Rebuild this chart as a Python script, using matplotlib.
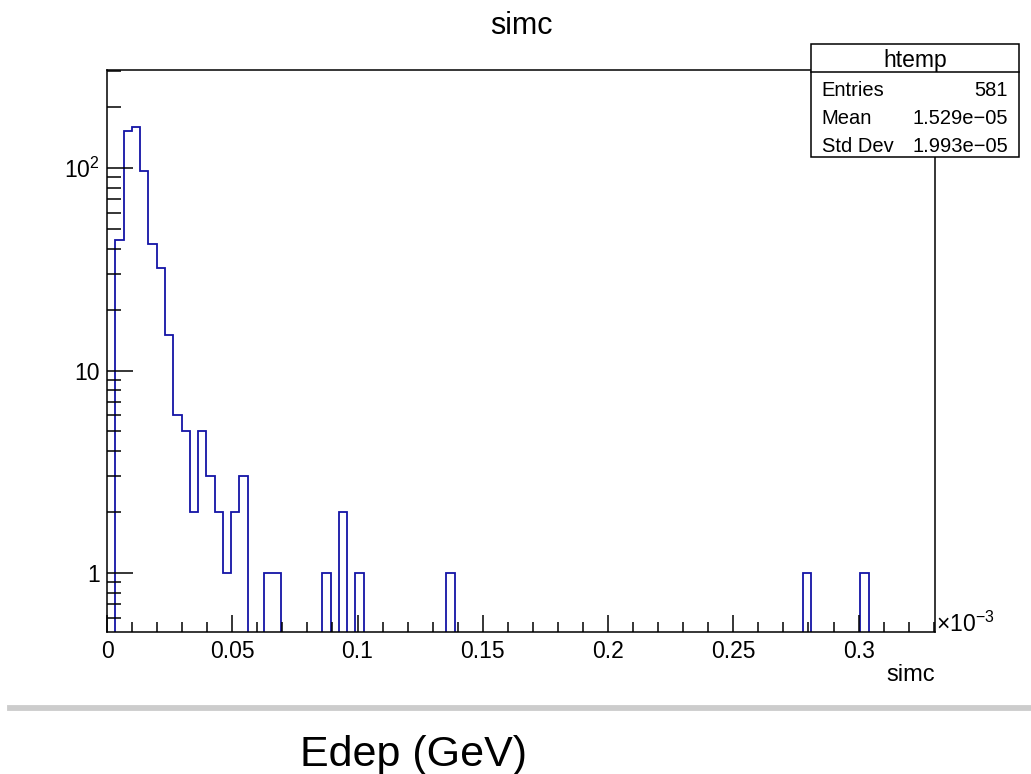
import numpy as np
import matplotlib as mpl

mpl.use('Agg')

import matplotlib.pyplot as plt
from matplotlib.patches import Rectangle
from matplotlib.lines import Line2D
from matplotlib.ticker import FixedLocator, FixedFormatter, MultipleLocator, LogLocator, NullFormatter

plt.rcParams['font.family'] = ['Liberation Sans', 'DejaVu Sans']
plt.rcParams['mathtext.fontset'] = 'custom'
plt.rcParams['mathtext.rm'] = 'Liberation Sans'
plt.rcParams['mathtext.it'] = 'Liberation Sans:italic'
plt.rcParams['mathtext.bf'] = 'Liberation Sans:bold'

# histogram data (x in units of 1e-3 GeV)
n_bins = 100
x_max = 0.3305
filled_bins = [1, 2, 3, 4, 5, 6, 7, 8, 9, 10, 11, 12, 13, 14, 15, 16,
               19, 20, 26, 28, 30, 41, 84, 91]
filled_counts = [44, 153, 160, 97, 42, 32, 15, 6, 5, 2, 5, 3, 2, 1, 2, 3,
                 1, 1, 1, 2, 1, 1, 1, 1]

x_ticks = [0, 0.05, 0.1, 0.15, 0.2, 0.25, 0.3]
x_tick_labels = ['0', '0.05', '0.1', '0.15', '0.2', '0.25', '0.3']
y_ticks = [1, 10, 100]
y_tick_labels = ['1', '10', r'$10^{2}$']

stats_title = 'htemp'
stats_names = ['Entries', 'Mean', 'Std Dev']
stats_values = ['581', '1.529e\u221205', '1.993e\u221205']

W, H = 1031, 774


def fx(x):
    return x / W


def fy(y):
    return 1 - y / H


counts = np.zeros(n_bins)
counts[filled_bins] = filled_counts
edges = np.linspace(0, x_max, n_bins + 1)
# empty bins drawn below the log axis floor, like ROOT does
plot_vals = np.where(counts > 0, counts, 1e-3)

fig = plt.figure(figsize=(W / 100, H / 100), dpi=100)
ax = fig.add_axes([fx(107), fy(632), fx(935) - fx(107), fy(70) - fy(632)])

ax.stairs(plot_vals, edges, baseline=None, color='#1414a6', lw=1.3)

ax.set_yscale('log')
ax.set_xlim(0, x_max)
ax.set_ylim(0.511, 305)

ax.xaxis.set_major_locator(FixedLocator(x_ticks))
ax.xaxis.set_major_formatter(FixedFormatter(x_tick_labels))
ax.xaxis.set_minor_locator(MultipleLocator(0.01))
ax.yaxis.set_major_locator(FixedLocator(y_ticks))
ax.yaxis.set_major_formatter(FixedFormatter(y_tick_labels))
ax.yaxis.set_minor_locator(LogLocator(base=10, subs=np.arange(2, 10), numticks=20))
ax.yaxis.set_minor_formatter(NullFormatter())

ax.tick_params(axis='x', which='major', direction='in', length=12, width=1.1,
               labelsize=16.5, pad=6, top=False)
ax.tick_params(axis='x', which='minor', direction='in', length=7, width=1.1, top=False)
ax.tick_params(axis='y', which='major', direction='in', length=18.5, width=1.1,
               labelsize=16.5, pad=5, right=False)
ax.tick_params(axis='y', which='minor', direction='in', length=10, width=1.1, right=False)
for s in ax.spines.values():
    s.set_linewidth(1.1)

# title and axis texts
fig.text(fx(521), fy(34), 'simc', ha='center', va='baseline', fontsize=22)
fig.text(fx(935), fy(681), 'simc', ha='right', va='baseline', fontsize=17)
fig.text(fx(936), fy(632), r'$\times10^{-3}$', ha='left', va='baseline', fontsize=16.5)

# stats box
box_l, box_r, box_t, box_b, box_sep = 810.7, 1019, 44, 157.3, 72.3
fig.add_artist(Rectangle((fx(box_l), fy(box_b)), fx(box_r) - fx(box_l), fy(box_t) - fy(box_b),
                         transform=fig.transFigure, facecolor='white', edgecolor='black',
                         lw=1.1, zorder=5))
fig.add_artist(Line2D([fx(box_l), fx(box_r)], [fy(box_sep), fy(box_sep)],
                      transform=fig.transFigure, color='black', lw=1.1, zorder=6))
fig.text(fx((box_l + box_r) / 2), fy(66.5), stats_title, ha='center', va='baseline',
         fontsize=16.5, zorder=7)
row_y = [96, 124, 152]
for name, val, yy in zip(stats_names, stats_values, row_y):
    fig.text(fx(821.5), fy(yy), name, ha='left', va='baseline', fontsize=14.5, zorder=7)
    fig.text(fx(1008), fy(yy), val, ha='right', va='baseline', fontsize=14.5, zorder=7)

# gray separator and caption below
fig.add_artist(Line2D([fx(10), fx(1031)], [fy(708), fy(708)], transform=fig.transFigure,
                      color='#cccccc', lw=4.2))
fig.text(fx(300), fy(766), 'Edep (GeV)', ha='left', va='baseline', fontsize=31)

fig.savefig('out.png', dpi=100)
plt.close(fig)
